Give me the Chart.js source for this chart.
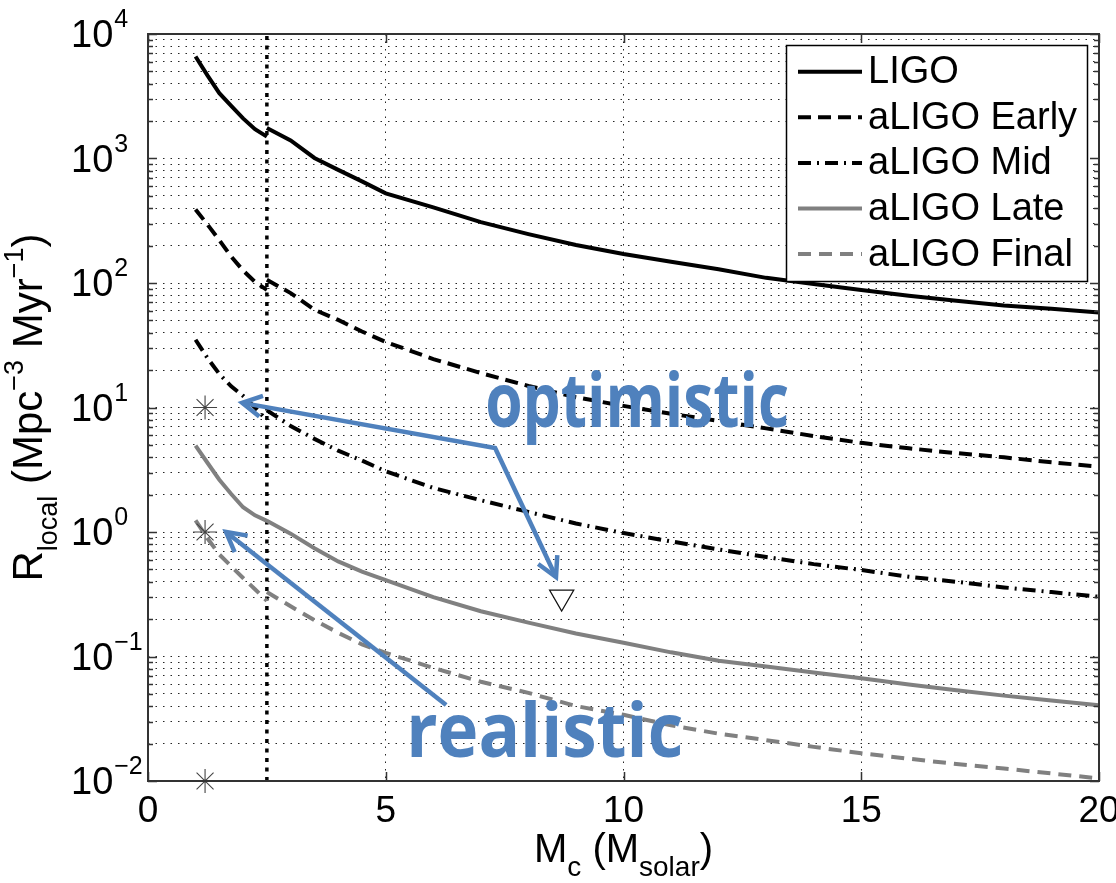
<!DOCTYPE html>
<html>
<head>
<meta charset="utf-8">
<title>R_local vs chirp mass</title>
<script src="https://cdn.jsdelivr.net/npm/chart.js@4.4.1/dist/chart.umd.min.js"></script>
<style>
  html, body { margin: 0; padding: 0; background: #fff; }
  #wrap { width: 1116px; height: 883px; }
</style>
</head>
<body>
<div id="wrap"><canvas id="chart" width="1116" height="883"></canvas></div>
<script>
// chirp mass grid, the curves are split at the 2.5 Msolar break
const mcLeft = [1.0, 1.25, 1.5, 1.75, 2.0, 2.25, 2.5];
const mcRight = [2.5, 3, 3.5, 4, 4.5, 5, 6, 7, 8, 9, 10, 11, 12, 13, 14, 15, 16, 17, 18, 19, 20];

// R_local upper limits (Mpc^-3 Myr^-1)
const ligoLeft = [6600, 4650, 3350, 2650, 2100, 1720, 1500];
const ligoRight = [1760, 1395, 1010, 810, 655, 525, 405, 308, 247, 202, 171, 148, 129, 110, 98, 88, 79, 72, 66, 62, 58];
const earlyLeft = [390, 295, 221, 163, 126, 102, 88];
const earlyRight = [106, 83, 61, 50.5, 40.8, 33.6, 24.5, 18.9, 14.9, 12.1, 10.3, 8.9, 7.8, 6.8, 5.9, 5.2, 4.7, 4.3, 3.98, 3.63, 3.35];
const midLeft = [35, 25, 18.6, 14.8, 12.4, 10, 7.9];
const midRight = [9.5, 7.1, 5.6, 4.5, 3.75, 3.07, 2.26, 1.80, 1.45, 1.17, 0.98, 0.84, 0.725, 0.63, 0.552, 0.495, 0.437, 0.398, 0.359, 0.329, 0.302];
const lateLeft = [4.95, 3.6, 2.63, 2.02, 1.58, 1.36, 1.23];
const lateRight = [1.23, 0.97, 0.74, 0.58, 0.48, 0.41, 0.30, 0.231, 0.187, 0.153, 0.129, 0.108, 0.0925, 0.083, 0.0743, 0.0668, 0.0596, 0.0535, 0.0485, 0.0443, 0.0406];
const finalLeft = [1.24, 0.89, 0.66, 0.53, 0.427, 0.347, 0.28];
const finalRight = [0.33, 0.253, 0.196, 0.155, 0.125, 0.107, 0.081, 0.0627, 0.051, 0.040, 0.034, 0.028, 0.024, 0.0213, 0.0188, 0.0167, 0.0151, 0.0137, 0.0126, 0.0115, 0.0105];

// rate predictions (asterisks) and the triangle marker
const starMc = [1.2, 1.2, 1.2];
const starRate = [10, 1, 0.01];
const triangleMc = [8.7];
const triangleRate = [0.3];

// mass gap boundary
const breakMc = [2.5, 2.5];
const breakRate = [0.01, 10000];

// axes
const xTickValues = [0, 5, 10, 15, 20];
const yDecades = [-2, -1, 0, 1, 2, 3, 4];

const yGridValues = [];
yDecades.forEach(e => {
  const top = e === 4 ? 1 : 9;
  for (let m = 1; m <= top; m++) yGridValues.push(Number((m * Math.pow(10, e)).toPrecision(3)));
});

function joinSeries(left, right) {
  const pts = mcLeft.map((x, i) => ({ x: x, y: left[i] }));
  pts.push({ x: 2.5, y: null }); // gap at the break
  return pts.concat(mcRight.map((x, i) => ({ x: x, y: right[i] })));
}
function zipPoints(xs, ys) {
  return xs.map((x, i) => ({ x: x, y: ys[i] }));
}

const GRAY = '#808080';
const BLUE = '#4F81BD';
const FONT = '"Liberation Sans", Arial, sans-serif';
const LW = 4;

const datasets = [
  { data: zipPoints(starMc, starRate), showLine: false, pointStyle: 'star', pointRadius: 12,
    pointBorderColor: '#444', pointBorderWidth: 1.1, clip: false },
  { data: zipPoints(triangleMc, triangleRate), showLine: false, pointStyle: 'triangle', pointRotation: 180,
    pointRadius: 14, pointBackgroundColor: '#fff', pointBorderColor: '#111', pointBorderWidth: 1.2, clip: false },
  { label: 'LIGO', inLegend: true, data: joinSeries(ligoLeft, ligoRight), borderColor: '#000', borderWidth: LW, borderDash: [] },
  { label: 'aLIGO Early', inLegend: true, data: joinSeries(earlyLeft, earlyRight), borderColor: '#000', borderWidth: LW, borderDash: [13, 7] },
  { label: 'aLIGO Mid', inLegend: true, data: joinSeries(midLeft, midRight), borderColor: '#000', borderWidth: LW, borderDash: [13, 6, 2, 6] },
  { label: 'aLIGO Late', inLegend: true, data: joinSeries(lateLeft, lateRight), borderColor: GRAY, borderWidth: LW, borderDash: [] },
  { label: 'aLIGO Final', inLegend: true, data: joinSeries(finalLeft, finalRight), borderColor: GRAY, borderWidth: LW, borderDash: [13, 8] },
  { data: zipPoints(breakMc, breakRate), borderColor: '#000', borderWidth: 3.5, borderDash: [4, 5.5] }
];

// annotation arrows and words, in data coordinates
const optimisticArrow = [[1.98, 10.9], [7.30, 4.73], [8.58, 0.435]];
const realisticArrow = [[6.27, 0.0408], [1.64, 1.0]];
const notes = [
  { text: 'optimistic', x: 7.09, y: 6.97, width: 304 },
  { text: 'realistic', x: 5.43, y: 0.0156, width: 277 }
];

function isDecade(v) {
  const l = Math.log10(v);
  return Math.abs(l - Math.round(l)) < 1e-9;
}

// text with sub/superscript runs
function runsWidth(c, runs, base, small) {
  let w = 0;
  runs.forEach(r => {
    c.font = (r.s === 'n' ? base : small) + 'px ' + FONT;
    w += c.measureText(r.t).width;
  });
  return w;
}
function drawRuns(c, runs, x, y, base, small) {
  let cx = x;
  runs.forEach(r => {
    c.font = (r.s === 'n' ? base : small) + 'px ' + FONT;
    let dy = 0;
    if (r.s === 'sub') dy = base * 0.36;
    if (r.s === 'sup') dy = -base * 0.45;
    c.fillText(r.t, cx, y + dy);
    cx += c.measureText(r.t).width;
  });
}

function arrowHead(c, tip, from) {
  const a = Math.atan2(tip[1] - from[1], tip[0] - from[0]);
  const len = 22, spread = 0.5;
  c.beginPath();
  c.moveTo(tip[0] - len * Math.cos(a - spread), tip[1] - len * Math.sin(a - spread));
  c.lineTo(tip[0], tip[1]);
  c.lineTo(tip[0] - len * Math.cos(a + spread), tip[1] - len * Math.sin(a + spread));
  c.stroke();
}

const paperPlugin = {
  id: 'paper',
  beforeDraw(chart) {
    const c = chart.ctx;
    c.save();
    c.fillStyle = '#fff';
    c.fillRect(0, 0, chart.width, chart.height);
    c.restore();
  },
  afterDatasetsDraw(chart) {
    const c = chart.ctx;
    const { left, right, top, bottom } = chart.chartArea;
    const xs = chart.scales.x, ys = chart.scales.y;
    const px = p => [xs.getPixelForValue(p[0]), ys.getPixelForValue(p[1])];

    c.save();
    c.setLineDash([]);

    // annotations
    c.strokeStyle = BLUE;
    c.lineWidth = 4.5;
    c.lineJoin = 'miter';
    c.lineCap = 'butt';
    const oa = optimisticArrow.map(px);
    c.beginPath();
    c.moveTo(oa[0][0], oa[0][1]);
    c.lineTo(oa[1][0], oa[1][1]);
    c.lineTo(oa[2][0], oa[2][1]);
    c.stroke();
    arrowHead(c, oa[0], oa[1]);
    arrowHead(c, oa[2], oa[1]);
    const ra = realisticArrow.map(px);
    c.beginPath();
    c.moveTo(ra[0][0], ra[0][1]);
    c.lineTo(ra[1][0], ra[1][1]);
    c.stroke();
    arrowHead(c, ra[1], ra[0]);

    c.fillStyle = BLUE;
    c.textAlign = 'left';
    c.textBaseline = 'alphabetic';
    notes.forEach(n => {
      c.font = 'bold 76px "Open Sans", "Noto Sans", sans-serif';
      const w = c.measureText(n.text).width;
      const p = px([n.x, n.y]);
      c.save();
      c.translate(p[0], p[1]);
      c.scale(n.width / w, 1);
      c.fillText(n.text, 0, 0);
      c.restore();
    });

    // frame
    c.strokeStyle = '#333';
    c.lineWidth = 2;
    c.strokeRect(left, top, right - left, bottom - top);

    // inward tick marks
    c.lineWidth = 1.5;
    c.beginPath();
    yGridValues.forEach(v => {
      const y = Math.round(ys.getPixelForValue(v)) + 0.5;
      const len = isDecade(v) ? 9 : 5;
      c.moveTo(left, y); c.lineTo(left + len, y);
      c.moveTo(right, y); c.lineTo(right - len, y);
    });
    xTickValues.forEach(v => {
      const x = Math.round(xs.getPixelForValue(v)) + 0.5;
      c.moveTo(x, bottom); c.lineTo(x, bottom - 9);
      c.moveTo(x, top); c.lineTo(x, top + 9);
    });
    c.stroke();

    // tick labels
    c.fillStyle = '#000';
    c.font = '37px ' + FONT;
    c.textAlign = 'center';
    xTickValues.forEach(v => {
      c.fillText(String(v), xs.getPixelForValue(v), bottom + 41);
    });
    c.textAlign = 'left';
    yDecades.forEach(e => {
      const y = ys.getPixelForValue(Math.pow(10, e));
      c.font = '38px ' + FONT;
      c.fillText('10', 71, y + 13);
      const w = c.measureText('10').width;
      c.font = '25px ' + FONT;
      c.fillText(String(e).replace('-', '\u2212'), 71 + w + 1, y - 7);
    });

    // axis titles
    const xRuns = [{ t: 'M', s: 'n' }, { t: 'c', s: 'sub' }, { t: ' (M', s: 'n' }, { t: 'solar', s: 'sub' }, { t: ')', s: 'n' }];
    const xw = runsWidth(c, xRuns, 40, 28);
    drawRuns(c, xRuns, (left + right) / 2 - xw / 2, 862, 40, 28);

    const yRuns = [{ t: 'R', s: 'n' }, { t: 'local', s: 'sub' }, { t: ' (Mpc', s: 'n' }, { t: '\u22123', s: 'sup' },
      { t: ' Myr', s: 'n' }, { t: '\u22121', s: 'sup' }, { t: ')', s: 'n' }];
    const yw = runsWidth(c, yRuns, 42, 27);
    c.save();
    c.translate(42, (top + bottom) / 2);
    c.rotate(-Math.PI / 2);
    drawRuns(c, yRuns, -yw / 2, 0, 42, 27);
    c.restore();

    // legend box
    const lx = right - 313, ly = top + 11, lw = 301, lh = 236;
    c.fillStyle = '#fff';
    c.fillRect(lx, ly, lw, lh);
    c.strokeStyle = '#000';
    c.lineWidth = 1.5;
    c.strokeRect(lx + 0.5, ly + 0.5, lw, lh);
    chart.data.datasets.filter(d => d.inLegend).forEach((d, i) => {
      const cy = ly + 26.7 + i * 45.6;
      c.strokeStyle = d.borderColor;
      c.lineWidth = d.borderWidth;
      c.setLineDash(d.borderDash || []);
      c.beginPath();
      c.moveTo(lx + 12, cy);
      c.lineTo(lx + 76, cy);
      c.stroke();
      c.setLineDash([]);
      c.fillStyle = '#000';
      c.font = '38px ' + FONT;
      c.textBaseline = 'middle';
      c.fillText(d.label, lx + 82, cy + 1);
      c.textBaseline = 'alphabetic';
    });

    c.restore();
  }
};

const gridStyle = { color: 'rgba(0,0,0,0.85)', lineWidth: 1, drawTicks: false };

new Chart(document.getElementById('chart').getContext('2d'), {
  type: 'line',
  data: { datasets: datasets },
  options: {
    responsive: false,
    animation: false,
    events: [],
    layout: { padding: { left: 148, right: 17, top: 34, bottom: 102 } },
    plugins: { legend: { display: false }, tooltip: { enabled: false } },
    elements: { point: { radius: 0 }, line: { tension: 0, fill: false } },
    scales: {
      x: {
        type: 'linear', min: 0, max: 20,
        ticks: { display: false },
        grid: gridStyle,
        border: { display: false, dash: [1.5, 6] },
        afterBuildTicks: s => { s.ticks = xTickValues.map(v => ({ value: v })); },
        afterFit: s => { s.height = 0; }
      },
      y: {
        type: 'logarithmic', min: 0.01, max: 10000,
        ticks: { display: false },
        grid: gridStyle,
        border: { display: false, dash: [1.5, 6] },
        afterBuildTicks: s => { s.ticks = yGridValues.map(v => ({ value: v })); },
        afterFit: s => { s.width = 0; }
      }
    }
  },
  plugins: [paperPlugin]
});
</script>
</body>
</html>
